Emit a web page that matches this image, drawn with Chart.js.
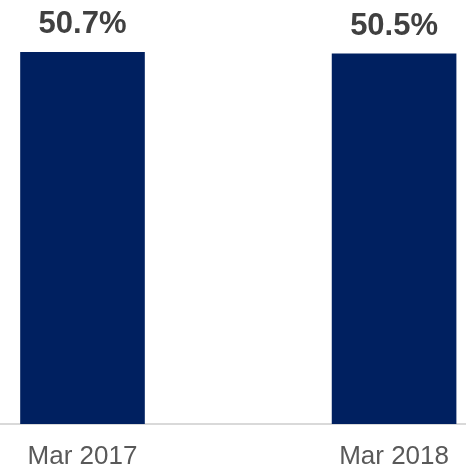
<!DOCTYPE html>
<html>
<head>
<meta charset="utf-8">
<script src="https://cdn.jsdelivr.net/npm/chart.js@4/dist/chart.umd.min.js"></script>
<style>
  html, body { margin: 0; padding: 0; background: #fff; }
  #wrap { width: 466px; height: 470px; }
</style>
</head>
<body>
<div id="wrap"><canvas id="share-chart"></canvas></div>
<script>
const categories = ["Mar 2017", "Mar 2018"];
const shareValues = [50.7, 50.5];

// full-width baseline + value labels above each bar
const decorations = {
    id: "decorations",
    beforeDatasetsDraw(chart) {
        const ctx = chart.ctx;
        const y = chart.scales.x.top;
        ctx.save();
        ctx.strokeStyle = "#d9d9d9";
        ctx.lineWidth = 2;
        ctx.beginPath();
        ctx.moveTo(0, y);
        ctx.lineTo(chart.width, y);
        ctx.stroke();
        ctx.restore();
    },
    afterDatasetsDraw(chart) {
        const ctx = chart.ctx;
        const meta = chart.getDatasetMeta(0);
        ctx.save();
        ctx.font = "bold 31px 'Liberation Sans', Arial, sans-serif";
        ctx.fillStyle = "#404040";
        ctx.textAlign = "center";
        ctx.textBaseline = "alphabetic";
        meta.data.forEach((bar, i) => {
            ctx.fillText(shareValues[i].toFixed(1) + "%", bar.x, bar.y - 19);
        });
        ctx.restore();
    }
};

new Chart(document.getElementById("share-chart"), {
    type: "bar",
    data: {
        labels: categories,
        datasets: [{
            data: shareValues,
            backgroundColor: "#002060",
            borderWidth: 0,
            categoryPercentage: 0.8,
            barPercentage: 0.5,
            clip: false
        }]
    },
    options: {
        responsive: true,
        maintainAspectRatio: false,
        animation: false,
        layout: { padding: { left: 82.5, right: 71, top: 0, bottom: 0 } },
        plugins: {
            legend: { display: false },
            tooltip: { enabled: false }
        },
        scales: {
            x: {
                offset: false,
                grid: { display: false, drawTicks: false },
                border: { display: false },
                afterFit: scale => { scale.height = 46; },
                ticks: {
                    padding: 17,
                    maxRotation: 0,
                    color: "#595959",
                    font: { family: "'Liberation Sans', Arial, sans-serif", size: 26 }
                }
            },
            y: {
                display: false,
                min: 0,
                max: 57.8
            }
        }
    },
    plugins: [decorations]
});
</script>
</body>
</html>
